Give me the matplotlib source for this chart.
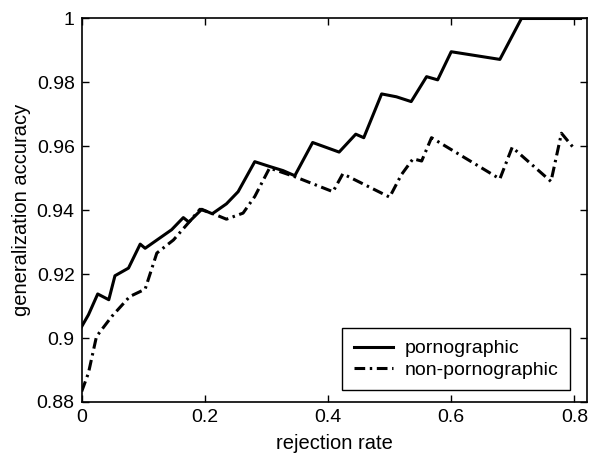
import matplotlib
matplotlib.use("Agg")
import matplotlib.pyplot as plt

plt.rcParams['font.family'] = ['Liberation Sans', 'DejaVu Sans']

# pornographic (solid)
porn_x = [0.0, 0.011, 0.026, 0.044, 0.054, 0.076, 0.095, 0.103, 0.146, 0.165,
          0.174, 0.195, 0.212, 0.235, 0.254, 0.281, 0.305, 0.327, 0.346, 0.375,
          0.418, 0.445, 0.458, 0.487, 0.511, 0.535, 0.560, 0.578, 0.600, 0.679,
          0.714, 0.810]
porn_y = [0.9036, 0.9073, 0.9138, 0.9120, 0.9195, 0.9219, 0.9294, 0.9281, 0.9339, 0.9377,
          0.9363, 0.9403, 0.9389, 0.9420, 0.9458, 0.9552, 0.9537, 0.9524, 0.9508, 0.9612,
          0.9582, 0.9638, 0.9627, 0.9764, 0.9755, 0.9740, 0.9818, 0.9808, 0.9896, 0.9872,
          1.0, 1.0]

# non-pornographic (dash-dot)
non_x = [0.0, 0.011, 0.024, 0.049, 0.078, 0.103, 0.122, 0.149, 0.173, 0.192,
         0.211, 0.235, 0.262, 0.281, 0.305, 0.346, 0.408, 0.424, 0.500, 0.519,
         0.538, 0.552, 0.568, 0.679, 0.699, 0.762, 0.779, 0.800]
non_y = [0.8833, 0.8891, 0.9005, 0.9068, 0.9130, 0.9153, 0.9266, 0.9307, 0.9360, 0.9403,
         0.9391, 0.9372, 0.9391, 0.9443, 0.9532, 0.9505, 0.9458, 0.9514, 0.9441, 0.9511,
         0.9561, 0.9554, 0.9627, 0.9498, 0.9597, 0.9490, 0.9641, 0.9592]

fig = plt.figure(figsize=(5.89, 4.59), dpi=100)
ax = fig.add_axes([0.1387, 0.1242, 0.8574, 0.8355])

ax.plot(porn_x, porn_y, color='black', linewidth=2.2, linestyle='-', label='pornographic')
ax.plot(non_x, non_y, color='black', linewidth=2.2, linestyle=(0, (3.5, 1.5, 0.8, 1.5)),
        label='non-pornographic')

ax.set_xlim(0, 0.82)
ax.set_ylim(0.88, 1.0)
ax.set_xticks([0, 0.2, 0.4, 0.6, 0.8])
ax.set_xticklabels(['0', '0.2', '0.4', '0.6', '0.8'])
ax.set_yticks([0.88, 0.9, 0.92, 0.94, 0.96, 0.98, 1.0])
ax.set_yticklabels(['0.88', '0.9', '0.92', '0.94', '0.96', '0.98', '1'])
ax.tick_params(direction='in', top=True, right=True, labelsize=14, length=5, width=1, pad=5)
for s in ax.spines.values():
    s.set_linewidth(1.2)

ax.set_xlabel('rejection rate', fontsize=14.5, labelpad=6)
ax.set_ylabel('generalization accuracy', fontsize=14.5, labelpad=4)

leg = ax.legend(loc='lower right', bbox_to_anchor=(0.967, 0.03), borderaxespad=0,
                fontsize=14, frameon=True, fancybox=False,
                edgecolor='black', framealpha=1, handlelength=2.0, handletextpad=0.6,
                labelspacing=0.2, borderpad=0.6)
leg.get_frame().set_linewidth(1.0)

fig.savefig('out.png', dpi=100)
